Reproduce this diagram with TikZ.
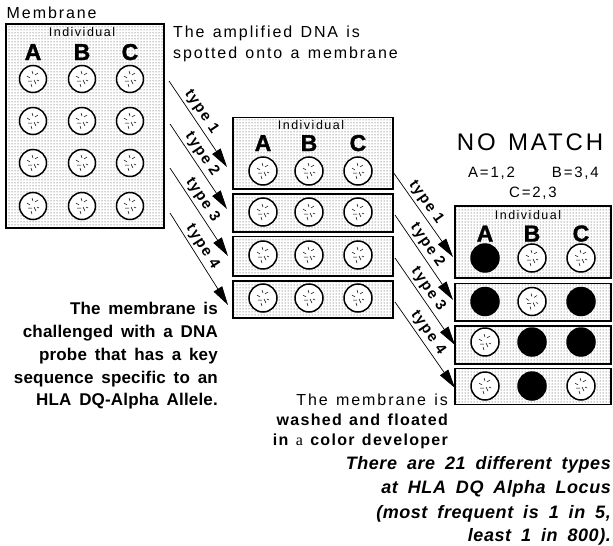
\documentclass[tikz,border=0pt]{standalone}
\usepackage{fontspec}
\setmainfont{Liberation Sans}
\newfontfamily\regf{Liberation Sans}[LetterSpace=12,WordSpace=1.3]
\newfontfamily\midb{Liberation Sans}[LetterSpace=8,WordSpace=1.3]
\newfontfamily\boldf{Liberation Sans}[LetterSpace=1,WordSpace=1.6]
\newfontfamily\bitf{Liberation Sans}[LetterSpace=3,WordSpace=1.8]
\newfontfamily\typef{Liberation Sans}[LetterSpace=10]
\newfontfamily\heavyf{Liberation Sans}[FakeBold=1.5]
\newfontfamily\serf{Liberation Serif}
\usetikzlibrary{arrows.meta,patterns}

\tikzset{
  panel/.style={draw, line width=1.6pt, pattern=dots, pattern color=black!80, inner sep=0pt, anchor=north west},
  spot/.style={circle, draw, line width=1.5pt, fill=white, minimum size=28pt, inner sep=0pt},
  hit/.style={spot, fill=black},
  hdr/.style={font=\regf\fontsize{12.5}{14}\selectfont, anchor=base, inner sep=0pt},
  colname/.style={font=\heavyf\bfseries\fontsize{23}{25}\selectfont, anchor=base, inner sep=0pt},
  regtext/.style={font=\regf\fontsize{16}{18}\selectfont, inner sep=0pt},
  midbold/.style={font=\midb\bfseries\fontsize{16}{18}\selectfont, inner sep=0pt, anchor=base east},
  boldtext/.style={font=\boldf\bfseries\fontsize{17}{20}\selectfont, inner sep=0pt, anchor=base east},
  ittext/.style={font=\bitf\bfseries\itshape\fontsize{18}{20}\selectfont, inner sep=0pt, anchor=base east},
  arr/.style={line width=0.7pt, -{Triangle[length=19pt,width=10pt]}},
  lab/.style={font=\typef\bfseries\fontsize{15}{16}\selectfont, sloped, above, inner sep=2.5pt, pos=0.42},
  dna/.pic={\draw[line width=0.5pt] (-6,-3)--(-3,-1) (-1,-8)--(0,-5) (2,-4)--(5,-6) (-5,2)--(-1,2) (1,1)--(3,5) (-2,5)--(-1,8) (4,1)--(6,2);}
}

\begin{document}
\begin{tikzpicture}[x=1pt,y=-1pt]
\useasboundingbox (0,0) rectangle (613,546);
% panels
\node[panel, minimum width=158pt, minimum height=204pt] (mem) at (5,23) {};
\node[panel, minimum width=160pt, minimum height=71.3pt] (m1) at (232,116.7) {};
\node[panel, minimum width=160pt, minimum height=38pt] (m2) at (232,193) {};
\node[panel, minimum width=160pt, minimum height=39.5pt] (m3) at (232,235.5) {};
\node[panel, minimum width=160pt, minimum height=37pt] (m4) at (232,280) {};
\node[panel, minimum width=156pt, minimum height=72pt] (r1) at (454,205) {};
\node[panel, minimum width=156pt, minimum height=37.5pt] (r2) at (454,282.5) {};
\node[panel, minimum width=156pt, minimum height=38pt] (r3) at (454,325) {};
\node[panel, minimum width=156pt, minimum height=36pt] (r4) at (454,367.5) {};

% headers
\node[hdr] (hl) at (82,36) {Individual};
\foreach \x/\c in {33/A,82/B,130/C} \node[colname] (L\c) at (\x,60) {\c};
\node[hdr] (hm) at (311,129) {Individual};
\foreach \x/\c in {263/A,309/B,358/C} \node[colname] (M\c) at (\x,151) {\c};
\node[hdr] (hr) at (528,219) {Individual};
\foreach \x/\c in {485/A,532/B,581/C} \node[colname] (R\c) at (\x,241.5) {\c};

% spots
\foreach \x [count=\i] in {33,82,130}{
  \foreach \y [count=\j] in {79,121,163,206}{
    \node[spot, minimum size=27pt] (L\i\j) at (\x,\y) {};
    \pic at (\x,\y) {dna};
  }
}
\foreach \x [count=\i] in {263,309,358}{
  \foreach \y [count=\j] in {171,212,255,298}{
    \node[spot] (M\i\j) at (\x,\y) {};
    \pic at (\x,\y) {dna};
  }
}
\foreach \x/\y/\n in {532/258/R21,581/258/R31,532/301.5/R22,485/342/R13,485/386/R14,581/386/R34}{
  \node[spot] (\n) at (\x,\y) {};
  \pic at (\x,\y) {dna};
}
\foreach \x/\y/\n in {485/258/R11,485/301.5/R12,581/301.5/R32,532/342/R23,581/342/R33,532/386/R24}{
  \node[hit] (\n) at (\x,\y) {};
}

% arrows
\coordinate (ls1) at (169,81);  \coordinate (lt1) at (227,167);
\coordinate (ls2) at (170,124); \coordinate (lt2) at (227,209);
\coordinate (ls3) at (170,168); \coordinate (lt3) at (228,256);
\coordinate (ls4) at (170,213); \coordinate (lt4) at (228,305);
\coordinate (rs1) at (393,172); \coordinate (rt1) at (453,257);
\coordinate (rs2) at (395,215); \coordinate (rt2) at (453,300);
\coordinate (rs3) at (395,258); \coordinate (rt3) at (455,345);
\coordinate (rs4) at (395,302); \coordinate (rt4) at (455,388);
\foreach \i in {1,2,3,4}{
  \draw[arr] (ls\i) -- node[lab] (lb\i) {type \i} (lt\i);
  \draw[arr] (rs\i) -- node[lab] (rb\i) {type \i} (rt\i);
}

% texts
\node[regtext, anchor=base west] (membr) at (6.5,19) {Membrane};
\node[regtext, anchor=base west] (amp1) at (173,37) {The amplified DNA is};
\node[regtext, anchor=base west] (amp2) at (173,58) {spotted onto a membrane};

\node[font=\regf\fontsize{24}{26}\selectfont, anchor=base, inner sep=0pt] (nomatch) at (530,150) {NO MATCH};
\node[font=\regf\fontsize{15}{18}\selectfont, inner sep=0pt, anchor=base west] (ma) at (468,177) {A=1,2};
\node[font=\regf\fontsize{15}{18}\selectfont, inner sep=0pt, anchor=base east] (mb) at (599,177) {B=3,4};
\node[font=\regf\fontsize{15}{18}\selectfont, inner sep=0pt, anchor=base] (mc) at (533,197) {C=2,3};

\node[boldtext] (p1) at (218,314) {The membrane is};
\node[boldtext] (p2) at (218,337) {challenged with a DNA};
\node[boldtext] (p3) at (218,360) {probe that has a key};
\node[boldtext] (p4) at (218,383) {sequence specific to an};
\node[boldtext] (p5) at (218,405) {HLA DQ-Alpha Allele.};

\node[regtext, anchor=base east] (w1) at (448,405) {The membrane is};
\node[midbold] (w2) at (448,425) {washed and floated};
\node[midbold] (w3) at (448,445) {in {\serf\mdseries a} color developer};

\node[ittext] (t1) at (611,469) {There are 21 different types};
\node[ittext] (t2) at (611,493.5) {at HLA DQ Alpha Locus};
\node[ittext] (t3) at (611,518) {(most frequent is 1 in 5,};
\node[ittext] (t4) at (611,541) {least 1 in 800).};
\end{tikzpicture}
\end{document}
